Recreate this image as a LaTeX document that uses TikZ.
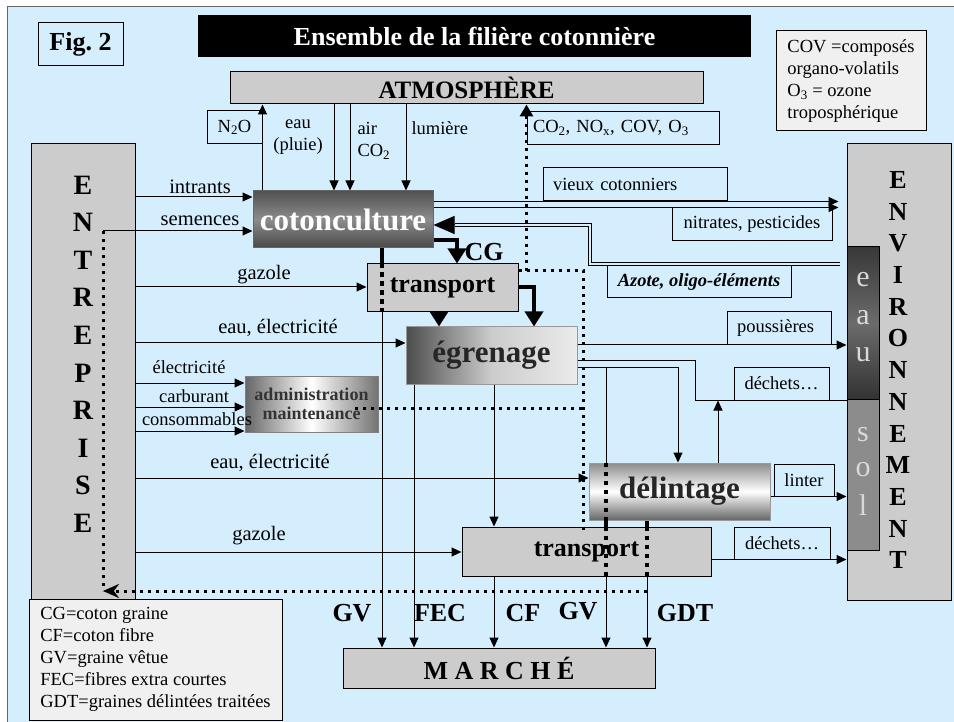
\documentclass[tikz,border=0pt]{standalone}
\usepackage{fontspec}
\setmainfont{Liberation Serif}
\usetikzlibrary{arrows.meta}

\definecolor{ciel}{RGB}{213,238,253}
\definecolor{gris}{RGB}{204,204,204}
\definecolor{grisclair}{RGB}{240,240,240}

\tikzset{
  bloc/.style={draw, fill=gris, inner sep=0pt},
  cadre/.style={draw, inner sep=0pt, minimum height=33pt, font=\fontsize{18.5}{22}\selectfont},
  txt/.style={inner sep=0pt, font=\fontsize{18.5}{22}\selectfont},
  entree/.style={inner sep=0pt, font=\fontsize{20.5}{24}\selectfont},
  gras/.style={inner sep=0pt, font=\bfseries\fontsize{26}{30}\selectfont},
  fl/.style={-{Triangle[length=10pt,width=9pt]}},
  gfl/.style={line width=3.5pt, -{Triangle[length=15pt,width=18pt]}},
  epais/.style={line width=3.5pt},
  epaispt/.style={line width=4pt, dash pattern=on 4.5pt off 4.5pt},
  pts/.style={line width=3pt, dash pattern=on 3pt off 5pt},
  dbl/.style={double=ciel, double distance=2.6pt, line width=0.9pt},
}

\begin{document}
\begin{tikzpicture}[x=1pt, y=-1pt, line width=1pt]
\useasboundingbox (0,0) rectangle (954,722);
\fill[white] (0,0) rectangle (954,722);
\fill[ciel] (7,7) rectangle (954,722);
\draw[black!60] (7,722) -- (7,7) -- (954,7);

% repères des lignes
\coordinate (kPluie) at (334,0);
\coordinate (kAir) at (350,0);
\coordinate (kLum) at (406,0);
\coordinate (kIntr) at (0,197);
\coordinate (kSem) at (103,231);
\coordinate (kGaz) at (0,287);
\coordinate (kEau) at (0,343);
\coordinate (kElec) at (0,383);
\coordinate (kCarb) at (0,407);
\coordinate (kCons) at (0,431);
\coordinate (kEau2) at (0,478);
\coordinate (kGaz2) at (0,552);
\coordinate (kAzB) at (590,264);
\coordinate (kAzH) at (455,225);
\coordinate (kCG) at (457,240);
\coordinate (kTrEg) at (534,287);
\coordinate (kEg) at (439,0);
\coordinate (kGV) at (382,0);
\coordinate (kFEC) at (414,0);
\coordinate (kCF) at (494,0);
\coordinate (kGV2) at (606,367);
\coordinate (kGDT) at (647,0);
\coordinate (kDech) at (695,360);
\coordinate (kDel) at (678,367);
\coordinate (kUp) at (718,0);
\coordinate (kPt) at (583,271);
\coordinate (kPtB) at (583,533);
\coordinate (kAdm) at (355,408);
\coordinate (kRet) at (0,591);

% titres
\node[draw, minimum width=85pt, minimum height=43pt, gras] (fig) at (80.5,44.5) {Fig.\ 2};
\node[fill=black, text=white, minimum width=553pt, minimum height=42pt, gras] (titre) at (474.5,36) {Ensemble de la filière cotonnière};
\node[bloc, minimum width=473pt, minimum height=32pt, font=\bfseries\fontsize{25}{30}\selectfont] (atm) at (466.5,88) {ATMOSPHÈRE};
\node[draw, fill=grisclair, minimum width=150pt, minimum height=100pt, align=left, txt] (cov) at (851,81) {COV =composés\\organo-volatils\\O\textsubscript{3} = ozone\\troposphérique};

% entreprise et environnement
\node[bloc, minimum width=104pt, minimum height=456pt] (ent) at (83,372) {};
\node[bloc, minimum width=104pt, minimum height=456pt] (env) at (899,372) {};
\node[draw, minimum width=32pt, minimum height=152pt, top color=black!78, bottom color=black!80, middle color=black!58] (eau) at (863,323) {};
\node[draw, fill=black!45, minimum width=32pt, minimum height=151pt] (sol) at (863,474.5) {};
\foreach \l [count=\i from 0] in {E,N,T,R,E,P,R,I,S,E}
  \node[gras, font=\bfseries\fontsize{28}{30}\selectfont] (ent-\i) at (83,185+37.6*\i) {\l};
\foreach \l [count=\i from 0] in {E,N,V,I,R,O,N,N,E,M,E,N,T}
  \node[gras] (env-\i) at (898,180+31.7*\i) {\l};
\foreach \l/\y [count=\i] in {e/280,a/318,u/355,s/435,o/470,l/505}
  \node[inner sep=0pt, text=white!85!black, font=\fontsize{30}{30}\selectfont] (es-\i) at (863,\y) {\l};

% étapes
\node[draw=black!60, top color=black!68, bottom color=black!72, middle color=black!45, minimum width=180pt, minimum height=57pt, inner sep=0pt, text=white, font=\bfseries\fontsize{31}{31}\selectfont] (cot) at (343,219.5) {cotonculture};
\node[bloc, minimum width=151pt, minimum height=48pt, gras] (tr1) at (442.5,288) {transport};
\node[draw=black!40, left color=black!70, right color=white!92!black, middle color=white!80!black, minimum width=171pt, minimum height=57pt, inner sep=0pt, text=black!85, font=\bfseries\fontsize{31}{31}\selectfont] (egr) at (491.5,355.5) {égrenage};
\node[draw=black!50, left color=black!60, right color=black!55, middle color=white, minimum width=133pt, minimum height=56pt, inner sep=0pt, align=center, text=black!80, font=\bfseries\fontsize{18}{19}\selectfont] (adm) at (311.5,404) {administration\\maintenance};
\node[draw=black!40, top color=black!45, bottom color=black!60, middle color=white, minimum width=181pt, minimum height=57pt, inner sep=0pt, text=black!85, font=\bfseries\fontsize{31}{31}\selectfont] (del) at (679.5,491.5) {délintage};
\node[bloc, minimum width=249pt, minimum height=49pt, gras] (tr2) at (586.5,551.5) {transport};
\node[bloc, minimum width=312pt, minimum height=40pt, gras] (marche) at (499,668) {M A R C H É};

% cadres des flux
\node[cadre, minimum width=55pt] (n2o) at (234.5,127.5) {N\textsubscript{2}O};
\node[cadre, text width=180pt, inner xsep=6pt, align=left] (co2) at (623,128) {CO\textsubscript{2}, NO\textsubscript{x}, COV, O\textsubscript{3}};
\node[cadre, text width=164pt, inner xsep=10pt, align=left] (vieux) at (635,184.5) {vieux cotonniers};
\node[cadre, minimum width=160pt] (nitr) at (752,224.5) {nitrates, pesticides};
\node[cadre, minimum width=184pt, minimum height=32pt, font=\bfseries\itshape\fontsize{18.5}{22}\selectfont] (azote) at (699,282) {Azote, oligo-éléments};
\node[cadre, text width=84pt, inner xsep=10pt, align=left] (pous) at (779,328) {poussières};
\node[cadre, minimum width=95pt] (dech1) at (781.5,383.5) {déchets…};
\node[cadre, minimum width=60pt, minimum height=32pt] (linter) at (804,480) {linter};
\node[cadre, minimum width=96pt, minimum height=32pt] (dech2) at (782,543) {déchets…};
\node[draw, fill=grisclair, minimum width=253pt, minimum height=121pt, align=left, txt] (leg) at (155.5,659.5) {CG=coton graine\\CF=coton fibre\\GV=graine vêtue\\FEC=fibres extra courtes\\GDT=graines délintées traitées};

% étiquettes
\node[entree] (t-intr) at (200,187) {intrants};
\node[entree] (t-sem) at (200,221) {semences};
\node[entree] (t-gaz) at (264,275) {gazole};
\node[entree] (t-eau) at (278,328) {eau, électricité};
\node[txt] (t-elec) at (189,367) {électricité};
\node[txt] (t-carb) at (194,396) {carburant};
\node[txt] (t-cons) at (197,419) {consommables};
\node[entree] (t-eau2) at (270,463) {eau, électricité};
\node[entree] (t-gaz2) at (259,536) {gazole};
\node[txt, align=center] (t-pluie) at (298,137) {eau\\(pluie)};
\node[txt, align=left, anchor=west] (t-air) at (357,141) {air\\CO\textsubscript{2}};
\node[txt, anchor=west] (t-lum) at (411,128) {lumière};
\node[gras] (t-cg) at (484,252) {CG};
\node[gras] (t-gv) at (352,613) {GV};
\node[gras] (t-fec) at (440,613) {FEC};
\node[gras] (t-cf) at (523,613) {CF};
\node[gras] (t-gv2) at (578,611) {GV};
\node[gras] (t-gdt) at (685,613) {GDT};

% entrées
\draw[fl] (ent.east |- kIntr) -- (cot.west |- kIntr);
\draw[fl] (kSem) -- (cot.west |- kSem);
\draw[fl] (ent.east |- kGaz) -- (tr1.west |- kGaz);
\draw[fl] (ent.east |- kEau) -- (egr.west |- kEau);
\draw[fl] (ent.east |- kElec) -- (adm.west |- kElec);
\draw[fl] (ent.east |- kCarb) -- (adm.west |- kCarb);
\draw[fl] (ent.east |- kCons) -- (adm.west |- kCons);
\draw[fl] (ent.east |- kEau2) -- (del.west |- kEau2);
\draw[fl] (ent.east |- kGaz2) -- (tr2.west |- kGaz2);

% atmosphère
\draw[fl] (cot.north -| n2o.east) -- (atm.south -| n2o.east);
\draw[fl] (atm.south -| kPluie) -- (cot.north -| kPluie);
\draw[fl] (atm.south -| kAir) -- (cot.north -| kAir);
\draw[fl] (atm.south -| kLum) -- (cot.north -| kLum);
\draw[pts, -{Triangle[length=12pt,width=13pt]}] (kPt -| co2.west) -- (atm.south -| co2.west);

% sorties de la cotonculture
\draw[fl, shorten >=8pt] (cot.east |- vieux.south) -- (env.west |- vieux.south);
\draw[fl, shorten >=8pt] (cot.east |- nitr.north) -- (env.west |- nitr.north);
\draw[dbl, shorten <=7pt] (eau.west |- kAzB) -- (kAzB) -- (kAzB |- kAzH) -- (kAzH);
\draw[-{Triangle[length=21pt,width=18pt]}] (kAzH) -- (cot.east |- kAzH);
\draw[gfl] (cot.east |- kCG) -- (kCG) -- (kCG |- tr1.north);
\draw[gfl] (tr1.east |- kTrEg) -- (kTrEg) -- (kTrEg |- egr.north);
\draw[gfl] (tr1.south -| kEg) -- (egr.north -| kEg);

% vers le marché
\draw[epais] (cot.south -| kGV) -- (tr1.north -| kGV);
\draw[epaispt] (tr1.north -| kGV) -- (tr1.south -| kGV);
\draw[fl] (tr1.south -| kGV) -- (marche.north -| kGV);
\draw[fl] (egr.south -| kFEC) -- (marche.north -| kFEC);
\draw[fl] (egr.south -| kCF) -- (tr2.north -| kCF);
\draw[fl] (tr2.south -| kCF) -- (marche.north -| kCF);

% égrenage, délintage, environnement
\draw[fl] (egr.east |- pous.south) -- (eau.west |- pous.south);
\draw (egr.east |- kDech) -- (kDech) -- (kDech |- dech1.south) -- (eau.west |- dech1.south);
\draw[fl] (egr.east |- kDel) -- (kDel) -- (kDel |- del.north);
\draw (kGV2) -- (kGV2 |- del.north);
\draw[epaispt] (del.north -| kGV2) -- (del.south -| kGV2);
\draw[epais] (del.south -| kGV2) -- (tr2.north -| kGV2);
\draw[epaispt] (tr2.north -| kGV2) -- (tr2.south -| kGV2);
\draw[fl] (tr2.south -| kGV2) -- (marche.north -| kGV2);
\draw[epais] (del.south -| kGDT) -- (tr2.north -| kGDT);
\draw[epaispt] (tr2.north -| kGDT) -- (tr2.south -| kGDT);
\draw[fl] (tr2.south -| kGDT) -- (marche.north -| kGDT);
\draw[fl] (del.north -| kUp) -- (dech1.south -| kUp);
\draw[fl] (del.east |- linter.south) -- (sol.west |- linter.south);
\draw[fl] (tr2.east |- dech2.south) -- (env.west |- dech2.south);

% pointillés
\draw[pts] (tr1.east |- kPt) -- (kPt) -- (kPtB);
\draw[pts] (kAdm) -- (kAdm -| kPt);
\draw[pts] (kSem) -- (kSem |- kRet);
\draw[pts, -{Stealth[length=16pt,width=14pt]}] (kRet -| kGDT) -- (kRet -| kSem);
\end{tikzpicture}
\end{document}
